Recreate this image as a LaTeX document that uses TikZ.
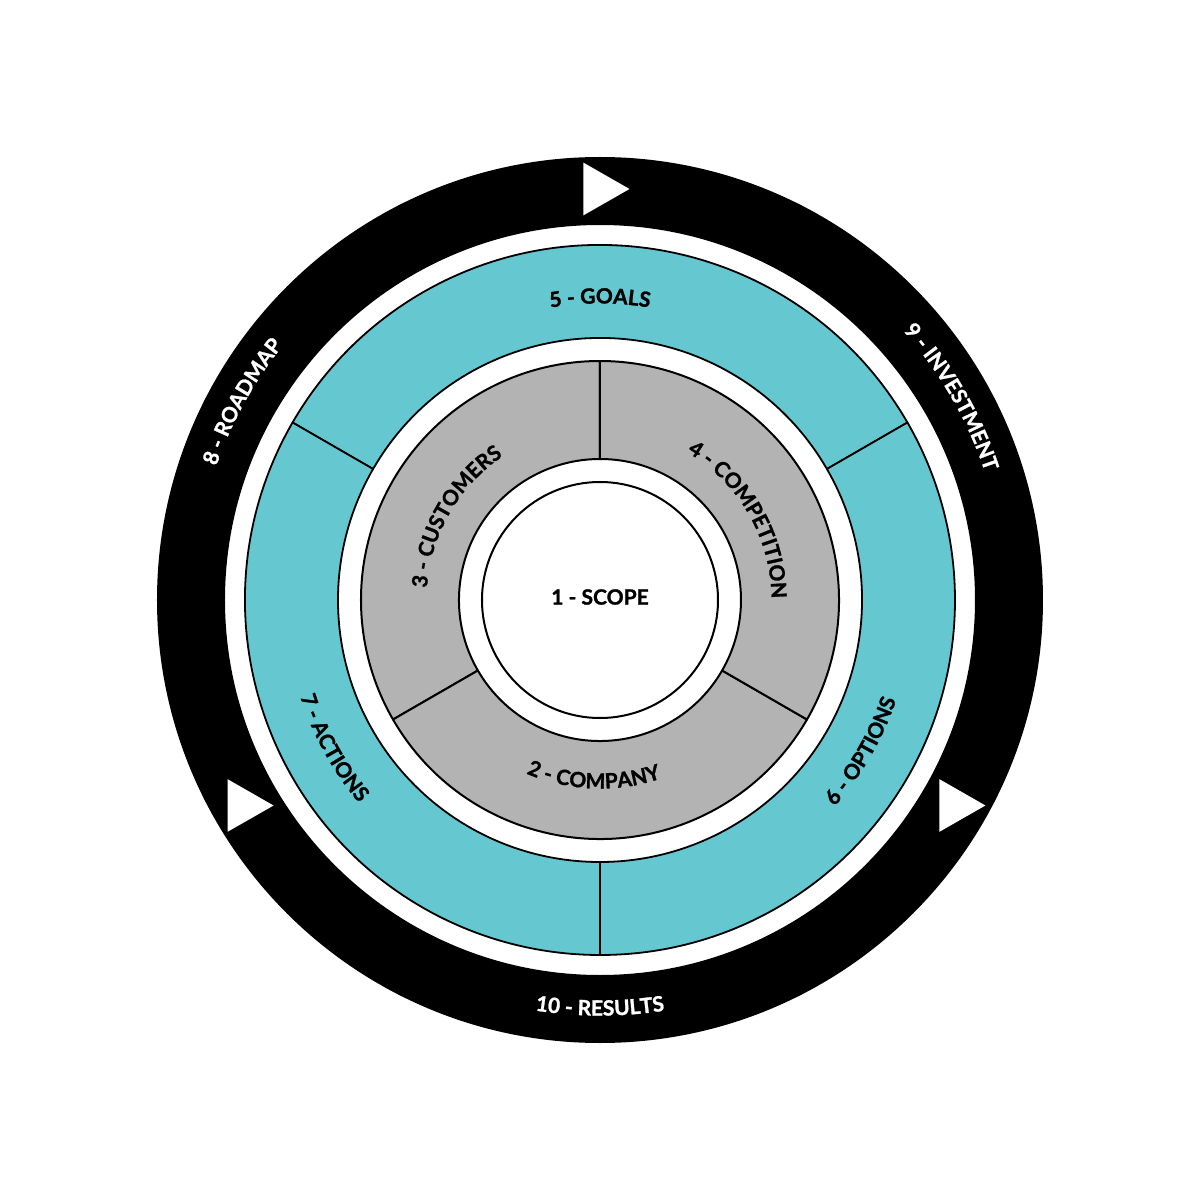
\documentclass[tikz,border=0pt]{standalone}
\usepackage{fontspec}
\setmainfont{Lato}[BoldFeatures={FakeBold=1.3}]
\usetikzlibrary{decorations.text}
\definecolor{tealring}{RGB}{101,199,208}
\definecolor{greyring}{RGB}{179,179,179}
\newcommand{\lblfont}{\bfseries\fontsize{21}{25}\selectfont}
\newcommand{\lblwhite}{\bfseries\fontsize{21}{25}\selectfont\color{white}}
\begin{document}
\begin{tikzpicture}[x=1pt,y=1pt,
  seg/.style={draw=black, line width=2pt, line join=round},
  tri/.style={fill=white},
  lbl/.style={font=\lblfont, inner sep=0pt}
]
\useasboundingbox (-600,-600) rectangle (600,600);
\fill[white] (-600,-600) rectangle (600,600);
% black outer ring
\fill[black, even odd rule] (0,0) circle[radius=443] (0,0) circle[radius=375];
% play triangles
\foreach \a in {90,210,330}{
  \fill[tri, shift={(\a:411)}] (-16.5,26.3) -- (-16.5,-26.3) -- (29.5,0) -- cycle;
}
% teal ring
\foreach \a in {30,150,270}{
  \filldraw[fill=tealring, seg, line width=1.8pt] ({\a}:262) -- ({\a}:355)
    arc[start angle=\a, end angle={\a+120}, radius=355] -- ({\a+120}:262)
    arc[start angle={\a+120}, end angle=\a, radius=262] -- cycle;
}
% grey ring
\foreach \a in {90,210,330}{
  \filldraw[fill=greyring, seg] ({\a}:141) -- ({\a}:239)
    arc[start angle=\a, end angle={\a+120}, radius=239] -- ({\a+120}:141)
    arc[start angle={\a+120}, end angle=\a, radius=141] -- cycle;
}
% centre
\draw[seg, fill=white] (0,0) circle[radius=118];
\node[lbl] (scope) at (0,3) {1 - SCOPE};
% grey labels
\path[decorate, decoration={text along path, text align=center, text={|\lblfont|3 - CUSTOMERS}}]
  (210:173.5) arc[start angle=210, end angle=90, radius=173.5];
\path[decorate, decoration={text along path, text align=center, text={|\lblfont|4 - COMPETITION}}]
  (90:171.5) arc[start angle=90, end angle=-30, radius=171.5];
\path[decorate, decoration={text along path, text align=center, text={|\lblfont|2 - COMPANY}}]
  (208:188.5) arc[start angle=208, end angle=328, radius=188.5];
% teal labels
\path[decorate, decoration={text along path, text align=center, text={|\lblfont|5 - GOALS}}]
  (150:296.5) arc[start angle=150, end angle=30, radius=296.5];
\path[decorate, decoration={text along path, text align=center, text={|\lblfont|6 - OPTIONS}}]
  (-90:312.5) arc[start angle=-90, end angle=30, radius=312.5];
\path[decorate, decoration={text along path, text align=center, text={|\lblfont|7 - ACTIONS}}]
  (149:315) arc[start angle=149, end angle=269, radius=315];
% black ring labels
\path[decorate, decoration={text along path, text align=center, text={|\lblwhite|8 - ROADMAP}}]
  (211:406.5) arc[start angle=211, end angle=91, radius=406.5];
\path[decorate, decoration={text along path, text align=center, text={|\lblwhite|9 - INVESTMENT}}]
  (90:405.5) arc[start angle=90, end angle=-30, radius=405.5];
\path[decorate, decoration={text along path, text align=center, text={|\lblwhite|10 - RESULTS}}]
  (210:415.5) arc[start angle=210, end angle=330, radius=415.5];
\end{tikzpicture}
\end{document}
